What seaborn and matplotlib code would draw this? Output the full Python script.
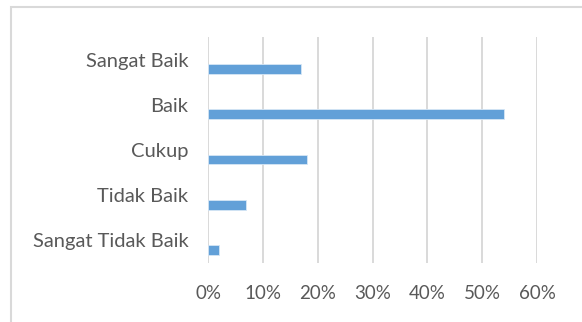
import pandas as pd
import seaborn as sns
import matplotlib.pyplot as plt
import matplotlib.transforms as mtransforms
from matplotlib.patches import Rectangle
from matplotlib.ticker import PercentFormatter, MultipleLocator

# --- DATA ---
categories = ["Sangat Baik", "Baik", "Cukup", "Tidak Baik", "Sangat Tidak Baik"]
values = [0.17, 0.54, 0.18, 0.07, 0.02]

df = pd.DataFrame({"Kategori": categories, "Persen": values})

# --- STYLE ---
sns.set_theme(style="whitegrid")
plt.rcParams['font.family'] = ['Lato', 'DejaVu Sans']
TEXT = "#595959"
GRID = "#d9d9d9"
BAR = "#62a0d8"

fig = plt.figure(figsize=(5.82, 3.22), dpi=100)
ax = fig.add_axes([208 / 582, 1 - 263 / 322, (537 - 208) / 582, (263 - 37) / 322])

sns.barplot(data=df, x="Persen", y="Kategori", orient="h", color=BAR,
            width=0.22, saturation=1, ax=ax, edgecolor="#d6e6f5", linewidth=0.6)

ax.set_xlim(0, 0.6)
ax.set_ylim(4.29, -0.71)
ax.xaxis.set_major_locator(MultipleLocator(0.1))
ax.xaxis.set_major_formatter(PercentFormatter(1, decimals=0))
ax.grid(axis="x", color=GRID, linewidth=1.4)
ax.grid(axis="y", visible=False)
for s in ax.spines.values():
    s.set_visible(False)
ax.set_xlabel("")
ax.set_ylabel("")
ax.tick_params(axis="x", length=0, pad=16, labelsize=13.5, labelcolor=TEXT)
ax.tick_params(axis="y", length=0, pad=14, labelsize=14.5, labelcolor=TEXT)

# labels sit in the middle of each band, bars sit lower (Excel cluster look)
off = mtransforms.ScaledTranslation(0, 9.5 / 100, fig.dpi_scale_trans)
for lbl in ax.get_yticklabels():
    lbl.set_transform(lbl.get_transform() + off)

# chart frame
fig.patches.append(Rectangle((11 / 582, -0.05), 1.2, 1 - 7 / 322 + 0.05,
                             transform=fig.transFigure, fill=False,
                             edgecolor=GRID, linewidth=1.5))

fig.savefig("out.png", dpi=100)
